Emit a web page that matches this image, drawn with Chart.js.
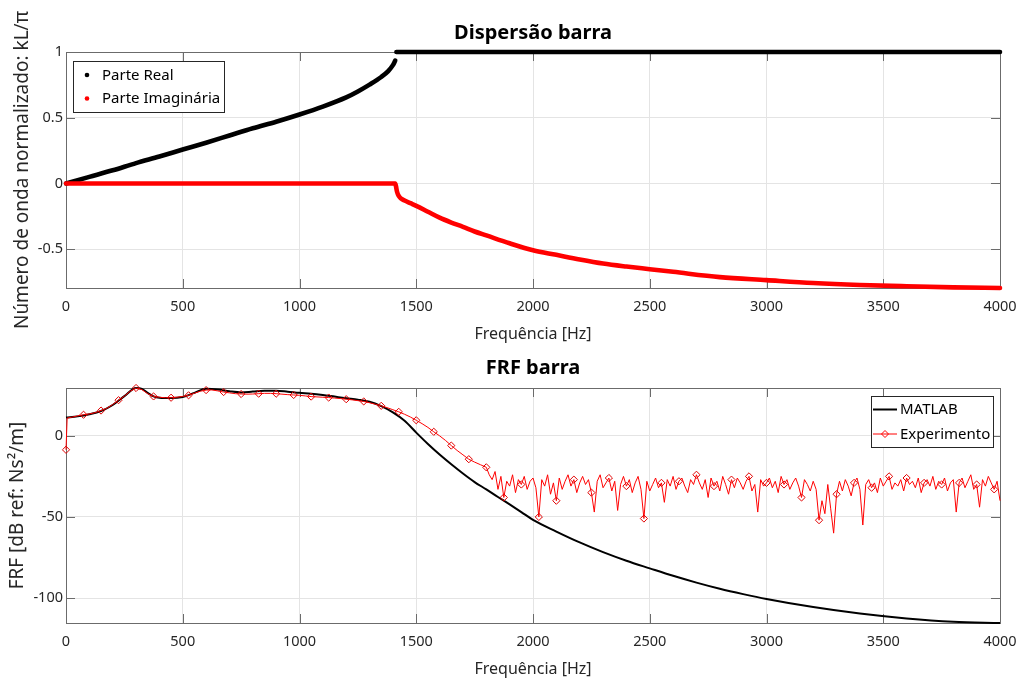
<!DOCTYPE html>
<html lang="pt">
<head>
  <meta charset="UTF-8" />
  <title>Dispersão barra / FRF barra</title>
  <script src="https://cdn.jsdelivr.net/npm/chart.js"></script>
  <style>
    body { margin: 0; background: #fff; }
    #wrap { position: relative; width: 1019px; height: 679px; }
    canvas { position: absolute; left: 0; }
    #topChart { top: 0; }
    #botChart { top: 346px; }
  </style>
</head>
<body>
<div id="wrap">
  <canvas id="topChart" width="1019" height="350"></canvas>
  <canvas id="botChart" width="1019" height="333"></canvas>
</div>

<script>
  // ---- tick labels ----
  const freqTicks = [0, 500, 1000, 1500, 2000, 2500, 3000, 3500, 4000];
  const dispTicks = [-0.5, 0, 0.5, 1];
  const frfTicks = [-100, -50, 0];

  // ---- Dispersão barra (kL/pi) ----
  const realFreq = [0, 100, 200, 300, 400, 500, 600, 700, 800, 900, 1000, 1100, 1200, 1250, 1300, 1350, 1380, 1400, 1410,
                    1412, 1415, 2000, 2500, 3000, 3500, 4000];
  const realPart = [0, 0.05, 0.10, 0.155, 0.205, 0.258, 0.31, 0.365, 0.42, 0.47, 0.525, 0.585, 0.655, 0.70, 0.752, 0.81, 0.855, 0.90, 0.935,
                    null, 1, 1, 1, 1, 1, 1];
  const imagFreq = [0, 500, 1000, 1410, 1413, 1418, 1425, 1435, 1450, 1475, 1500, 1550, 1600, 1650, 1700, 1750, 1800, 1900,
                    2000, 2100, 2200, 2300, 2400, 2500, 2600, 2800, 3000, 3200, 3400, 3600, 3800, 4000];
  const imagPart = [0, 0, 0, 0, -0.02, -0.065, -0.095, -0.115, -0.13, -0.15, -0.17, -0.215, -0.26, -0.297, -0.33, -0.365, -0.395, -0.455,
                    -0.508, -0.543, -0.578, -0.609, -0.632, -0.652, -0.672, -0.712, -0.735, -0.757, -0.772, -0.782, -0.79, -0.795];

  // ---- FRF barra (dB) ----
  const matlabFreq = [0, 50, 100, 150, 200, 250, 300, 325, 350, 375, 400, 450, 500, 550, 600, 650, 700, 750, 800, 850, 900, 950,
                      1000, 1050, 1100, 1150, 1200, 1250, 1300, 1350, 1400, 1450, 1500, 1550, 1600, 1650, 1700, 1750, 1800, 1850,
                      1900, 1950, 2000, 2100, 2200, 2300, 2400, 2500, 2600, 2700, 2800, 2900, 3000, 3200, 3400, 3600, 3800, 4000];
  const matlabFRF = [11.3, 12, 13.3, 15.3, 19, 24.5, 29.5, 29, 26.5, 24.3, 23.5, 23.3, 24, 26.5, 29, 28.6, 27.5, 26.8, 27.3, 27.8, 27.8, 27.2,
                     26.5, 26, 25.2, 24.2, 23.2, 22.3, 21, 18.3, 14.5, 9.3, 2, -5, -11.5, -17.5, -23.2, -28.5, -33, -37.7,
                     -42.3, -47, -51.8, -59, -65.7, -71.7, -77, -81.7, -86.3, -90.5, -94.3, -97.6, -100.6, -105.6, -109.6, -112.6, -114.6, -115.4];

  const expFreq = [0, 5, 25, 50, 75, 100, 125, 150, 175, 200, 225, 250, 275, 300, 325, 350, 375, 400, 425, 450, 475, 500,
    525, 550, 575, 600, 625, 650, 675, 700, 725, 750, 775, 800, 825, 850, 875, 900, 925, 950, 975, 1000, 1025, 1050, 1075, 1100,
    1125, 1150, 1175, 1200, 1225, 1250, 1275, 1300, 1325, 1350, 1375, 1400, 1425, 1450, 1475, 1500, 1525, 1550, 1575, 1600,
    1625, 1650, 1675, 1700, 1725, 1750, 1775, 1800,
    1812.5, 1825, 1837.5, 1850, 1862.5, 1875, 1887.5, 1900,
    1912.5, 1925, 1937.5, 1950, 1962.5, 1975, 1987.5, 2000,
    2012.5, 2025, 2037.5, 2050, 2062.5, 2075, 2087.5, 2100,
    2112.5, 2125, 2137.5, 2150, 2162.5, 2175, 2187.5, 2200,
    2212.5, 2225, 2237.5, 2250, 2262.5, 2275, 2287.5, 2300,
    2312.5, 2325, 2337.5, 2350, 2362.5, 2375, 2387.5, 2400,
    2412.5, 2425, 2437.5, 2450, 2462.5, 2475, 2487.5, 2500,
    2512.5, 2525, 2537.5, 2550, 2562.5, 2575, 2587.5, 2600,
    2612.5, 2625, 2637.5, 2650, 2662.5, 2675, 2687.5, 2700,
    2712.5, 2725, 2737.5, 2750, 2762.5, 2775, 2787.5, 2800,
    2812.5, 2825, 2837.5, 2850, 2862.5, 2875, 2887.5, 2900,
    2912.5, 2925, 2937.5, 2950, 2962.5, 2975, 2987.5, 3000,
    3012.5, 3025, 3037.5, 3050, 3062.5, 3075, 3087.5, 3100,
    3112.5, 3125, 3137.5, 3150, 3162.5, 3175, 3187.5, 3200,
    3212.5, 3225, 3237.5, 3250, 3262.5, 3275, 3287.5, 3300,
    3312.5, 3325, 3337.5, 3350, 3362.5, 3375, 3387.5, 3400,
    3412.5, 3425, 3437.5, 3450, 3462.5, 3475, 3487.5, 3500,
    3512.5, 3525, 3537.5, 3550, 3562.5, 3575, 3587.5, 3600,
    3612.5, 3625, 3637.5, 3650, 3662.5, 3675, 3687.5, 3700,
    3712.5, 3725, 3737.5, 3750, 3762.5, 3775, 3787.5, 3800,
    3812.5, 3825, 3837.5, 3850, 3862.5, 3875, 3887.5, 3900,
    3912.5, 3925, 3937.5, 3950, 3962.5, 3975, 3987.5, 4000];
  const expFRF = [-8.6, 11, 11.5, 12.3, 13, 13.5, 14.3, 15.6, 17, 19.3, 22, 24.5, 27.5, 29.5, 28.5, 26, 24.3, 23.8, 23.5, 23.5, 23.8, 24.3,
    25, 26.3, 27.5, 28.2, 28.3, 27.7, 27, 26.5, 26, 25.8, 25.7, 25.8, 26, 26.2, 26.2, 26, 25.7, 25.4, 25.2, 25, 24.6, 24.2, 24, 23.8,
    23.6, 23.3, 23, 22.6, 22.2, 21.7, 21.2, 20.4, 19.5, 18.5, 17.4, 16.1, 14.8, 13.3, 11.6, 9.6, 7.5, 5.2, 2.5, 0,
    -2.8, -6, -9, -11.7, -14.4, -16.2, -17.8, -19.4,
    -24, -27, -22, -33, -25, -38, -28, -31,
    -24, -35, -27, -30, -25, -33, -28, -26,
    -32, -50, -27, -31, -24, -36, -29, -40,
    -26, -33, -28, -24, -31, -27, -35, -29,
    -25, -30, -27, -35, -47, -28, -24, -32,
    -29, -26, -34, -28, -46, -30, -25, -31,
    -27, -35, -29, -25, -33, -51, -28, -34,
    -30, -26, -32, -29, -41, -27, -31, -25,
    -33, -28, -26, -31, -35, -27, -30, -24,
    -29, -33, -27, -38, -26, -31, -28, -34,
    -25, -30, -36, -27, -32, -26, -29, -33,
    -28, -25, -34, -30, -47, -27, -31, -29,
    -26, -32, -28, -35, -25, -30, -27, -33,
    -29, -26, -31, -38, -27, -30, -34, -28,
    -33, -52, -40, -48, -30, -45, -60, -36,
    -28, -34, -27, -31, -37, -29, -26, -33,
    -55, -30, -27, -32, -29, -35, -26, -31,
    -28, -25, -33, -29, -31, -27, -34, -26,
    -30, -28, -32, -26, -35, -29, -27, -31,
    -25, -33, -28, -30, -26, -34, -29, -27,
    -47, -29, -26, -32, -28, -24, -33, -30,
    -44, -27, -31, -25, -29, -33, -28, -40];

  const FONT = 'Noto Sans';
  const AXIS_GREY = '#262626';
  const pts = (xs, ys) => xs.map((x, i) => ({ x, y: ys[i] }));

  // box around the axes with inward tick marks (matlab look), title centred over the axes
  const matlabAxes = {
    id: 'matlabAxes',
    afterLayout(chart) {
      const t = chart.titleBlock;
      if (t) { t.left = chart.chartArea.left; t.right = chart.chartArea.right; }
    },
    beforeDatasetsDraw(chart) {
      const { ctx, chartArea: a, scales: { x, y } } = chart;
      ctx.save();
      ctx.strokeStyle = '#6b6b6b';
      ctx.lineWidth = 1;
      ctx.beginPath();
      x.ticks.forEach(t => {
        const px = Math.round(x.getPixelForValue(t.value)) + 0.5;
        ctx.moveTo(px, a.bottom); ctx.lineTo(px, a.bottom - 9);
        ctx.moveTo(px, a.top); ctx.lineTo(px, a.top + 9);
      });
      y.ticks.forEach(t => {
        const py = Math.round(y.getPixelForValue(t.value)) + 0.5;
        ctx.moveTo(a.left, py); ctx.lineTo(a.left + 9, py);
        ctx.moveTo(a.right, py); ctx.lineTo(a.right - 9, py);
      });
      ctx.stroke();
      ctx.strokeRect(Math.round(a.left) + 0.5, Math.round(a.top) + 0.5,
                     Math.round(a.right - a.left), Math.round(a.bottom - a.top));
      ctx.restore();
    }
  };

  // legend box drawn inside the plot
  const boxLegend = {
    id: 'boxLegend',
    afterDraw(chart, args, o) {
      const { ctx } = chart;
      ctx.save();
      ctx.fillStyle = '#fff';
      ctx.fillRect(o.x, o.y, o.w, o.h);
      ctx.strokeStyle = '#262626';
      ctx.lineWidth = 1;
      ctx.strokeRect(o.x + 0.5, o.y + 0.5, o.w, o.h);
      ctx.font = `15px "${FONT}"`;
      ctx.textBaseline = 'middle';
      chart.data.datasets.forEach((ds, i) => {
        const yy = o.y + o.rows[i];
        const col = ds.borderColor;
        if (o.symbol === 'dot') {
          ctx.fillStyle = col;
          ctx.beginPath();
          ctx.arc(o.x + o.symX, yy, 2.3, 0, Math.PI * 2);
          ctx.fill();
        } else {
          ctx.strokeStyle = col;
          ctx.lineWidth = ds.borderWidth;
          ctx.beginPath();
          ctx.moveTo(o.x + o.symX - 12, yy); ctx.lineTo(o.x + o.symX + 12, yy);
          ctx.stroke();
          if (ds.pointStyle === 'rectRot') {
            const cx = o.x + o.symX, r = 3.5;
            ctx.lineWidth = 1;
            ctx.beginPath();
            ctx.moveTo(cx, yy - r); ctx.lineTo(cx + r, yy); ctx.lineTo(cx, yy + r); ctx.lineTo(cx - r, yy);
            ctx.closePath();
            ctx.stroke();
          }
        }
        ctx.fillStyle = '#000';
        ctx.fillText(ds.label, o.x + o.textX, yy + 0.5);
      });
      ctx.restore();
    }
  };

  function makeOptions(cfg) {
    return {
      responsive: false,
      animation: false,
      layout: { padding: { left: 0, right: 19, top: 0, bottom: 0 } },
      scales: {
        x: {
          type: 'linear', min: 0, max: 4000,
          afterBuildTicks: s => { s.ticks = freqTicks.map(v => ({ value: v })); },
          afterFit: s => { s.height = cfg.xHeight; s.paddingLeft = 0; s.paddingRight = 0; },
          border: { display: false },
          grid: { color: '#e4e4e4', lineWidth: 1, drawTicks: false },
          ticks: { padding: 10, color: AXIS_GREY, maxRotation: 0, autoSkip: false,
                   font: { family: FONT, size: 14.5 }, callback: v => String(v) },
          title: { display: true, text: 'Frequência [Hz]', color: AXIS_GREY,
                   font: { family: FONT, size: 16 }, padding: { top: 0, bottom: cfg.xTitlePad } }
        },
        y: {
          type: 'linear', min: cfg.yMin, max: cfg.yMax,
          afterBuildTicks: s => { s.ticks = cfg.yTicks.map(v => ({ value: v })); },
          afterFit: s => { s.width = 66; s.paddingTop = 0; s.paddingBottom = 0; },
          border: { display: false },
          grid: { color: '#e4e4e4', lineWidth: 1, drawTicks: false },
          ticks: { padding: 3, color: AXIS_GREY, font: { family: FONT, size: 14.5 }, callback: v => String(v) },
          title: { display: true, text: cfg.yTitle, color: AXIS_GREY,
                   font: { family: FONT, size: 19 }, padding: { top: cfg.yTitlePad, bottom: 0 } }
        }
      },
      plugins: {
        legend: { display: false },
        tooltip: { enabled: false },
        title: { display: true, text: cfg.title, color: '#000',
                 font: { family: FONT, size: 20, weight: 'bold' }, padding: cfg.titlePad },
        boxLegend: cfg.legend
      }
    };
  }

  new Chart(document.getElementById('topChart'), {
    type: 'line',
    data: {
      datasets: [
        { label: 'Parte Real', data: pts(realFreq, realPart), borderColor: '#000000', borderWidth: 4.6,
          borderCapStyle: 'round', borderJoinStyle: 'round', cubicInterpolationMode: 'monotone',
          pointRadius: 0, clip: false, order: 1 },
        { label: 'Parte Imaginária', data: pts(imagFreq, imagPart), borderColor: '#ff0000', borderWidth: 4.6,
          borderCapStyle: 'round', borderJoinStyle: 'round', cubicInterpolationMode: 'monotone',
          pointRadius: 0, clip: false, order: 0 }
      ]
    },
    options: makeOptions({
      xHeight: 62, xTitlePad: 6.4,
      yMin: -0.795, yMax: 1, yTicks: dispTicks,
      yTitle: 'Número de onda normalizado: kL/π', yTitlePad: 11,
      title: 'Dispersão barra', titlePad: { top: 21, bottom: 7 },
      legend: { x: 73, y: 61, w: 151, h: 51, rows: [14, 37.5], symbol: 'dot', symX: 14, textX: 29 }
    }),
    plugins: [matlabAxes, boxLegend]
  });

  new Chart(document.getElementById('botChart'), {
    type: 'line',
    data: {
      datasets: [
        { label: 'MATLAB', data: pts(matlabFreq, matlabFRF), borderColor: '#000000', borderWidth: 2,
          pointRadius: 0, cubicInterpolationMode: 'monotone', clip: false, order: 1 },
        { label: 'Experimento', data: pts(expFreq, expFRF), borderColor: '#ff0000', borderWidth: 1,
          pointStyle: 'rectRot', pointBorderColor: '#e00000', pointBackgroundColor: 'rgba(0,0,0,0)', pointBorderWidth: 1,
          pointRadius: c => (c.raw && c.raw.x % 75 === 0) ? 3.6 : 0, clip: false, order: 0 }
      ]
    },
    options: makeOptions({
      xHeight: 56, xTitlePad: 0,
      yMin: -115.4, yMax: 29.5, yTicks: frfTicks,
      yTitle: 'FRF [dB ref: Ns²/m]', yTitlePad: 6,
      title: 'FRF barra', titlePad: { top: 10.5, bottom: 7.5 },
      legend: { x: 871, y: 50, w: 122, h: 51, rows: [13.5, 38], symbol: 'line', symX: 14, textX: 29 }
    }),
    plugins: [matlabAxes, boxLegend]
  });
</script>
</body>
</html>
